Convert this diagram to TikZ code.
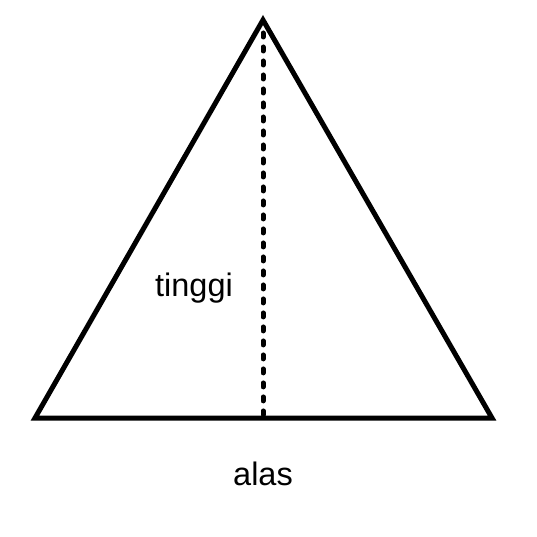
\documentclass[tikz,border=0pt]{standalone}
\usepackage{fontspec}
\setmainfont{Liberation Sans}
\begin{document}
\begin{tikzpicture}[x=0.02cm, y=-0.02cm,
    side/.style={line width=0.1cm, line join=miter},
    height line/.style={line width=0.1cm, line cap=round, dash pattern=on 0.08cm off 0.2cm},
    lbl/.style={font=\fontsize{18.5}{20}\selectfont, inner sep=0pt, anchor=base}]
  \useasboundingbox (0,0) rectangle (537,537);
  \coordinate (top) at (263,20);
  \coordinate (left) at (35,418);
  \coordinate (right) at (492,418);
  \coordinate (foot) at (263,418);
  \draw[height line] ([yshift=-0.26cm]top) -- (foot);
  \draw[side] (left) -- (top) -- (right) -- cycle;
  \node[lbl] (tinggi) at (194,296) {tinggi};
  \node[lbl] (alas) at (263,485) {alas};
\end{tikzpicture}
\end{document}
